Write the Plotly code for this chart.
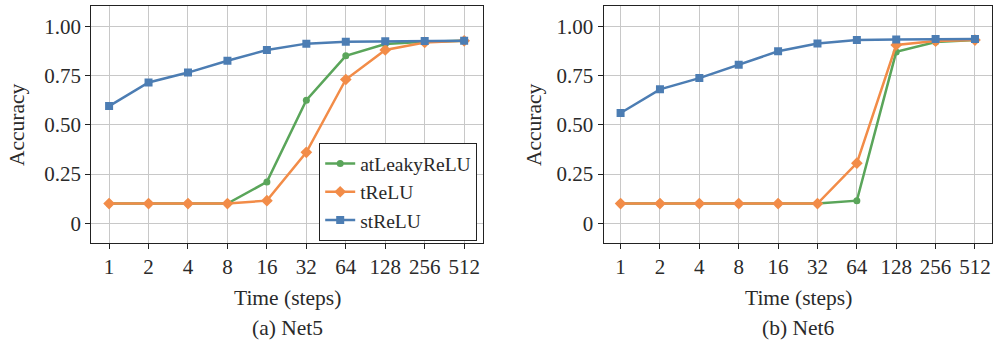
import plotly.graph_objects as go

steps = ["1", "2", "4", "8", "16", "32", "64", "128", "256", "512"]
y_ticks = [0, 0.25, 0.5, 0.75, 1.0]
y_tick_labels = ["0", "0.25", "0.50", "0.75", "1.00"]

net5_atleaky = [0.10, 0.10, 0.10, 0.10, 0.21, 0.625, 0.85, 0.91, 0.922, 0.926]
net5_trelu = [0.10, 0.10, 0.10, 0.10, 0.115, 0.36, 0.73, 0.88, 0.918, 0.926]
net5_strelu = [0.595, 0.715, 0.765, 0.825, 0.88, 0.912, 0.922, 0.924, 0.925, 0.926]

net6_atleaky = [0.10, 0.10, 0.10, 0.10, 0.10, 0.10, 0.115, 0.87, 0.92, 0.93]
net6_trelu = [0.10, 0.10, 0.10, 0.10, 0.10, 0.10, 0.305, 0.905, 0.925, 0.93]
net6_strelu = [0.56, 0.68, 0.737, 0.805, 0.873, 0.913, 0.93, 0.933, 0.935, 0.935]

names = ["atLeakyReLU", "tReLU", "stReLU"]
colors = ["#5aa55a", "#f28c48", "#4c7db3"]
symbols = ["circle", "diamond", "square"]
msizes = [7, 9, 8]

FONT = "Liberation Serif"
TXT = "#2a2a2a"

fig = go.Figure()
for i, (vals, xa, ya) in enumerate([
    ([net5_atleaky, net5_trelu, net5_strelu], "x", "y"),
    ([net6_atleaky, net6_trelu, net6_strelu], "x2", "y2"),
]):
    for k in range(3):
        fig.add_trace(go.Scatter(
            x=steps, y=vals[k], name=names[k], mode="lines+markers",
            line=dict(color=colors[k], width=2.5),
            marker=dict(symbol=symbols[k], size=msizes[k], color=colors[k]),
            xaxis=xa, yaxis=ya, showlegend=(i == 0),
        ))

axis_common = dict(
    showgrid=True, gridcolor="#c8c8c8", gridwidth=1,
    showline=True, linecolor="#222222", linewidth=1.2, mirror=True,
    ticks="outside", ticklen=5, tickcolor="#222222",
    tickfont=dict(family=FONT, size=21, color=TXT),
    zeroline=False,
)

fig.update_layout(
    width=994, height=345,
    margin=dict(l=0, r=0, t=0, b=0),
    paper_bgcolor="white", plot_bgcolor="white",
    font=dict(family=FONT, size=21, color=TXT),
    xaxis=dict(domain=[0.0919, 0.4856], range=[-0.45, 9.47], type="category", anchor="y", **axis_common),
    yaxis=dict(domain=[0.2957, 0.9826], range=[-0.1, 1.103], tickvals=y_ticks, ticktext=y_tick_labels, anchor="x", **axis_common),
    xaxis2=dict(domain=[0.6073, 0.9983], range=[-0.43, 9.44], type="category", anchor="y2", **axis_common),
    yaxis2=dict(domain=[0.2957, 0.9826], range=[-0.1, 1.103], tickvals=y_ticks, ticktext=y_tick_labels, anchor="x2", **axis_common),
    legend=dict(
        x=477 / 994, y=1 - 241 / 345, xanchor="right", yanchor="bottom",
        bgcolor="white", bordercolor="#222222", borderwidth=1.2,
        font=dict(family=FONT, size=19.5, color=TXT),
        tracegroupgap=0, itemwidth=30,
    ),
    showlegend=True,
)

annots = [
    dict(x=0.289, y=298, text="Time (steps)"),
    dict(x=0.803, y=298, text="Time (steps)"),
    dict(x=0.289, y=328, text="(a) Net5"),
    dict(x=0.803, y=328, text="(b) Net6"),
]
for a in annots:
    fig.add_annotation(x=a["x"], y=1 - a["y"] / 345, xref="paper", yref="paper",
                       text=a["text"], showarrow=False, xanchor="center", yanchor="middle",
                       font=dict(family=FONT, size=21.5, color=TXT))
for xp in [17 / 994, 534 / 994]:
    fig.add_annotation(x=xp, y=1 - 125 / 345, xref="paper", yref="paper",
                       text="Accuracy", textangle=-90, showarrow=False,
                       xanchor="center", yanchor="middle",
                       font=dict(family=FONT, size=21.5, color=TXT))

fig.write_html("out.html", config={"displayModeBar": False},
               post_script="document.body.style.margin='0';document.body.style.padding='0';")
